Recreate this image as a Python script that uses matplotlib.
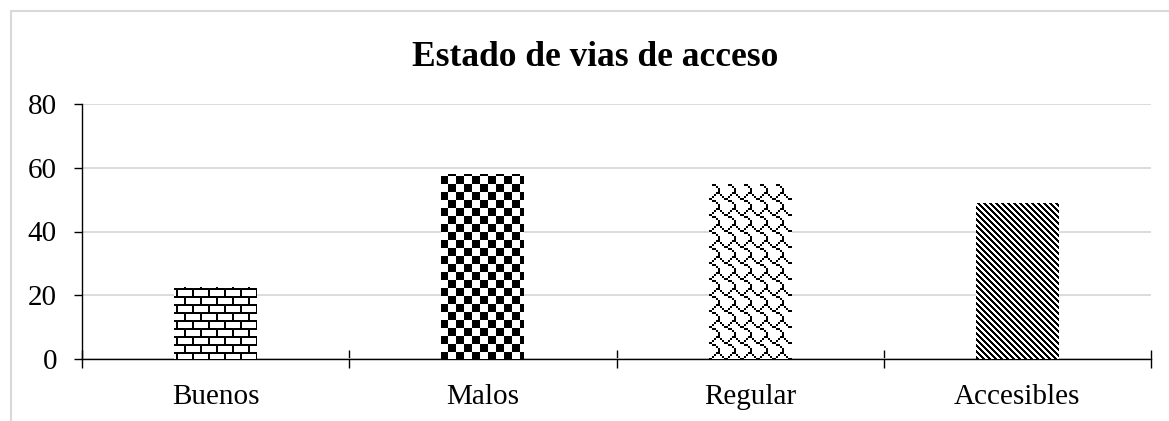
import matplotlib
matplotlib.use("Agg")
import matplotlib.pyplot as plt
import numpy as np
from matplotlib.patches import Rectangle

plt.rcParams["font.family"] = ["Liberation Serif", "DejaVu Serif"]

# datos
categorias = ["Buenos", "Malos", "Regular", "Accesibles"]
valores = [22.5, 58, 55, 49]
yticks = [0, 20, 40, 60, 80]
titulo = "Estado de vias de acceso"
rellenos = ["ladrillo", "ajedrez", "teja", "diagonal"]

# patrones 8x8 tipo Excel (bit alto = izquierda), se dibujan al doble
patrones = {
    "ladrillo": [0xff, 0x80, 0x80, 0x80, 0xff, 0x08, 0x08, 0x08],
    "ajedrez": [0x0f, 0x0f, 0x0f, 0x0f, 0xf0, 0xf0, 0xf0, 0xf0],
    "teja": [0x03, 0x84, 0x48, 0x30, 0x0c, 0x02, 0x01, 0x01],
}


def mascara(nombre, px, py):
    if nombre == "diagonal":
        return ((px - py) % 6) < 3
    bits = np.array([[(b >> (7 - i)) & 1 for i in range(8)] for b in patrones[nombre]])
    tile = np.kron(bits, np.ones((2, 2), dtype=int))
    return tile[py % 16, px % 16] == 1


W, H = 1169, 421
fig = plt.figure(figsize=(W / 100, H / 100), dpi=100)
ax = fig.add_axes([82 / W, 1 - 359 / H, (1151 - 82) / W, (359 - 104) / H])

x = np.arange(len(categorias))
barras = ax.bar(x, valores, width=0.31, color="white", edgecolor="none", zorder=2)
ax.set_xlim(-0.5, len(categorias) - 0.5)
ax.set_ylim(0, 80)

# rellenar cada barra con su textura en pixeles de pantalla
inv = ax.transData.inverted()
for rect, nombre in zip(barras, rellenos):
    x0, x1 = rect.get_x(), rect.get_x() + rect.get_width()
    h = rect.get_height()
    (dx0, dy0), (dx1, dy1) = ax.transData.transform([(x0, 0), (x1, h)])
    xl, xr = int(round(dx0)), int(round(dx1))
    yb, yt = int(round(dy0)), int(round(dy1))
    px = np.arange(xl, xr)
    py = np.arange(H - yt, H - yb)
    PX, PY = np.meshgrid(px, py)
    img = np.where(mascara(nombre, PX, PY), 0.0, 1.0)
    (ex0, ey0), (ex1, ey1) = inv.transform([(xl, yb), (xr, yt)])
    ax.imshow(img, cmap="gray", vmin=0, vmax=1, interpolation="nearest",
              extent=(ex0, ex1, ey0, ey1), aspect="auto", zorder=3)
ax.set_xlim(-0.5, len(categorias) - 0.5)
ax.set_ylim(0, 80)

ax.set_yticks(yticks)
ax.tick_params(axis="y", direction="out", length=6, width=1, pad=12, labelsize=21)
ax.yaxis.grid(True, color="#d9d9d9", linewidth=1.3)
ax.set_axisbelow(True)

ax.set_xticks(np.arange(len(categorias) + 1) - 0.5)
ax.set_xticklabels([])
ax.tick_params(axis="x", which="major", direction="inout", length=13, width=1)
ax.set_xticks(x, minor=True)
ax.set_xticklabels(categorias, minor=True, fontsize=21)
ax.tick_params(axis="x", which="minor", length=0, pad=18)

for s in ["top", "right"]:
    ax.spines[s].set_visible(False)
for s in ["left", "bottom"]:
    ax.spines[s].set_linewidth(1)

fig.text(595 / W, 1 - 66 / H, titulo, ha="center", va="baseline",
         fontsize=25.5, fontweight="bold")

# marco gris del grafico
fig.patches.append(Rectangle((11 / W, -0.2), 1.2, 1.2 - 11 / H, transform=fig.transFigure,
                             fill=False, edgecolor="#d9d9d9", linewidth=1.5))

fig.savefig("out.png", dpi=100)
